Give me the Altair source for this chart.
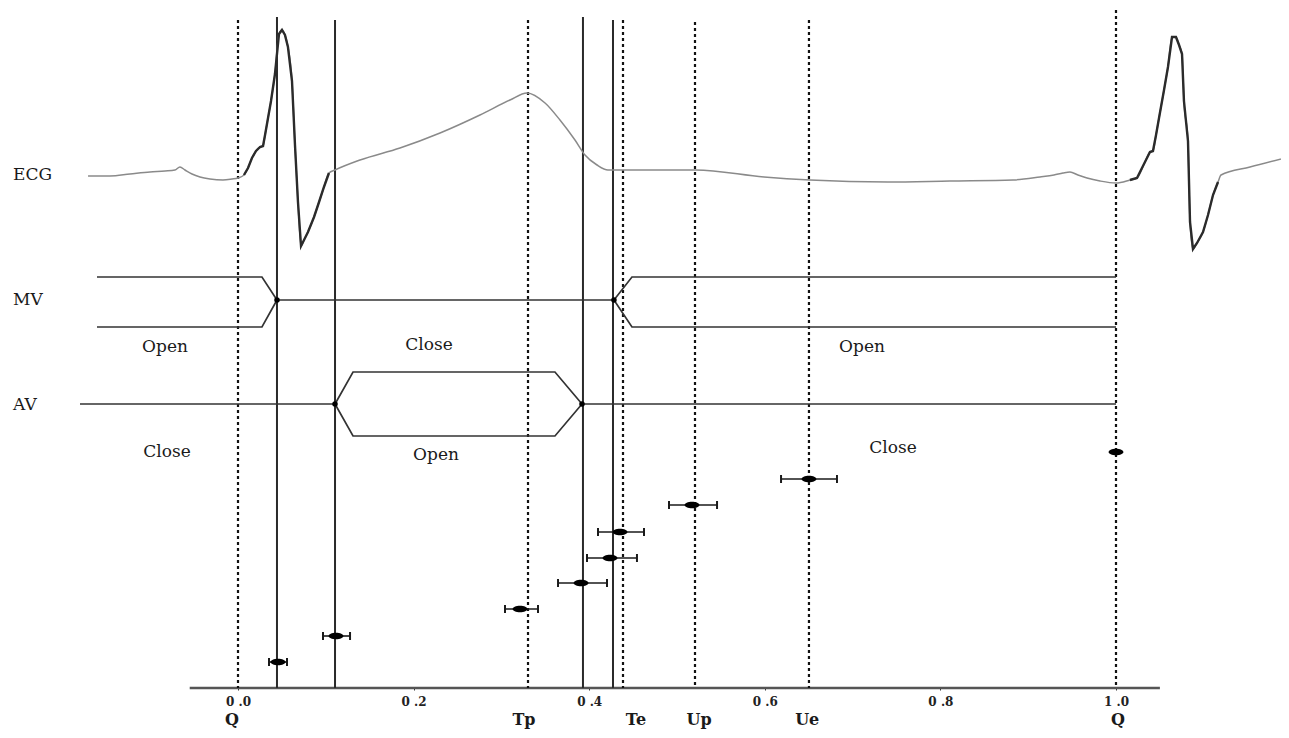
import altair as alt
import pandas as pd

# ---------------- data ----------------
# ECG trace: time as fraction of the RR cycle (Q = 0, next Q = 1) and amplitude (arbitrary vertical units)
ecg_t = [-0.1708, -0.1458, -0.1230, -0.1002, -0.0831, -0.0718, -0.0661, -0.0604, -0.0524, -0.0433,
         -0.0319, -0.0171, -0.0068, 0.0000, 0.0068, 0.0114, 0.0159, 0.0205, 0.0251, 0.0285,
         0.0308, 0.0342, 0.0376, 0.0421, 0.0467, 0.0501, 0.0535, 0.0569, 0.0615, 0.0649,
         0.0683, 0.0718, 0.0752, 0.0797, 0.0866, 0.0923, 0.0979, 0.1036, 0.1105, 0.1390,
         0.1845, 0.2301, 0.2756, 0.3098, 0.3292, 0.3497, 0.3667, 0.3838, 0.3952, 0.4089,
         0.4214, 0.4351, 0.4681, 0.5216, 0.5991, 0.6515, 0.7403, 0.8109, 0.8827, 0.9134,
         0.9294, 0.9396, 0.9476, 0.9567, 0.9670, 0.9818, 1.0000, 1.0159, 1.0239, 1.0330,
         1.0387, 1.0421, 1.0456, 1.0490, 1.0547, 1.0592, 1.0638, 1.0683, 1.0718, 1.0752,
         1.0774, 1.0820, 1.0843, 1.0877, 1.0923, 1.0991, 1.1048, 1.1105, 1.1162, 1.1196,
         1.1526, 1.1970]
ecg_amp = [512, 512, 514, 516, 517, 518, 521, 518, 514, 511,
           509, 508, 509, 510, 513, 520, 530, 537, 541, 542,
           553, 570, 587, 614, 654, 658, 653, 641, 607, 543,
           486, 442, 448, 456, 471, 486, 501, 515, 518, 528,
           540, 555, 573, 588, 595, 585, 568, 548, 533, 523,
           518, 518, 518, 518, 511, 508, 506, 507, 508, 511,
           513, 515, 516, 513, 510, 507, 505, 508, 510, 526,
           536, 537, 553, 570, 598, 621, 651, 651, 643, 634,
           587, 547, 466, 439, 445, 456, 473, 493, 506, 513,
           521, 531]

# event lines (dotted: Q, Tp, Te, Up, Ue, Q ; solid: valve events)
dotted_t = [0.0, 0.3303, 0.4385, 0.5205, 0.6503, 1.0]
dotted_top = [668, 668, 668, 666, 668, 678]
solid_t = [0.0444, 0.1105, 0.3929, 0.4271]
solid_top = [671, 668, 671, 668]

# valve state outlines (MV / AV)
valve_path = (["mv_pre_up"] * 3 + ["mv_pre_lo"] * 3 + ["mv_closed"] * 2 + ["mv_post_up"] * 3 + ["mv_post_lo"] * 3
              + ["av_pre"] * 2 + ["av_open_up"] * 4 + ["av_open_lo"] * 4 + ["av_post"] * 2)
valve_t = [-0.1606, 0.0273, 0.0444,
           -0.1606, 0.0273, 0.0444,
           0.0444, 0.4282,
           0.4282, 0.4487, 1.0,
           0.4282, 0.4487, 1.0,
           -0.1800, 0.1105,
           0.1105, 0.1310, 0.3610, 0.3918,
           0.1105, 0.1310, 0.3610, 0.3918,
           0.3918, 1.0]
valve_y = [411, 411, 388,
           361, 361, 388,
           388, 388,
           388, 411, 411,
           388, 361, 361,
           284, 284,
           284, 316, 316, 284,
           284, 252, 252, 284,
           284, 284]

# valve event points
valve_evt_t = [0.0444, 0.4282, 0.1105, 0.3918]
valve_evt_y = [388, 388, 284, 284]

# timing measurements (mean with spread)
meas_mean = [0.0456, 0.1116, 0.3212, 0.3907, 0.4237, 0.4351, 0.5171, 0.6503, 1.0]
meas_lo = [0.0353, 0.0968, 0.3041, 0.3645, 0.3975, 0.4100, 0.4909, 0.6185, 1.0]
meas_hi = [0.0558, 0.1276, 0.3417, 0.4203, 0.4544, 0.4624, 0.5456, 0.6822, 1.0]
meas_row = [26, 52, 79, 105, 130, 156, 183, 209, 236]

# texts
row_labels = ["ECG", "MV", "AV"]
row_label_t = [-0.2563, -0.2563, -0.2563]
row_label_y = [513, 388, 283]
state_text = ["Open", "Close", "Open", "Close", "Open", "Close"]
state_t = [-0.0831, 0.2175, 0.7107, -0.0809, 0.2255, 0.7460]
state_y = [341, 343, 341, 236, 233, 240]
phase_text = ["Q", "Tp", "Te", "Up", "Ue", "Q"]
phase_t = [-0.0068, 0.3257, 0.4533, 0.5251, 0.6483, 1.0023]
phase_y = [-32, -32, -32, -32, -32, -32]
tick_values = [0.0, 0.2, 0.4, 0.6, 0.8, 1.0]
axis_start = [-0.055]
axis_end = [1.05]
axis_level = [0]

# ---------------- frames ----------------
ecg_df = pd.DataFrame({"t": ecg_t, "amp": ecg_amp, "i": list(range(len(ecg_t)))})
dotted_df = pd.DataFrame({"t": dotted_t, "top": dotted_top, "base": [0] * len(dotted_t)})
solid_df = pd.DataFrame({"t": solid_t, "top": solid_top, "base": [0] * len(solid_t)})
valve_df = pd.DataFrame({"path": valve_path, "t": valve_t, "y": valve_y, "i": list(range(len(valve_t)))})
evt_df = pd.DataFrame({"t": valve_evt_t, "y": valve_evt_y})
meas_df = pd.DataFrame({"mean": meas_mean, "lo": meas_lo, "hi": meas_hi, "row": meas_row})
meas_bar_df = meas_df[meas_df["hi"] > meas_df["lo"]].reset_index(drop=True)
rowlab_df = pd.DataFrame({"text": row_labels, "t": row_label_t, "y": row_label_y})
state_df = pd.DataFrame({"text": state_text, "t": state_t, "y": state_y})
phase_df = pd.DataFrame({"text": phase_text, "t": phase_t, "y": phase_y})
axis_df = pd.DataFrame({"a": axis_start, "b": axis_end, "y": axis_level})

xscale = alt.Scale(domain=[-0.26196, 1.18793], nice=False, zero=False)
yscale = alt.Scale(domain=[0, 680], nice=False, zero=False)
xaxis = alt.Axis(values=tick_values, title=None, grid=False, domain=False, ticks=True, tickSize=2,
                 tickColor="#333", labelFont="DejaVu Serif", labelFontWeight="bold", labelFontSize=12,
                 labelColor="#222", labelPadding=6, labelFlush=False, labelOverlap=False,
                 labelExpr="replace(format(datum.value, '.1f'), '.', ' .')")


def X(field):
    return alt.X(field, type="quantitative", scale=xscale, axis=xaxis)


def Y(field):
    return alt.Y(field, type="quantitative", scale=yscale, axis=None)


SERIF = "DejaVu Serif"

ecg_line = alt.Chart(ecg_df).mark_line(color="#8a8a8a", strokeWidth=1.5, interpolate="monotone").encode(
    x=X("t"), y=Y("amp"), order="i:Q")

ecg_qrs = alt.Chart(ecg_df).transform_filter(
    "(datum.t >= 0.004 && datum.t <= 0.106) || (datum.t >= 1.01 && datum.t <= 1.117)"
).transform_calculate(beat="datum.t < 0.5 ? 1 : 2").mark_line(color="#2b2b2b", strokeWidth=2.4).encode(
    x=X("t"), y=Y("amp"), detail="beat:N", order="i:Q")

dotted = alt.Chart(dotted_df).mark_rule(color="#111", strokeWidth=2.2, strokeDash=[3, 3]).encode(
    x=X("t"), y=Y("top"), y2="base:Q")

solid = alt.Chart(solid_df).mark_rule(color="#2a2a2a", strokeWidth=2).encode(
    x=X("t"), y=Y("top"), y2="base:Q")

valves = alt.Chart(valve_df).mark_line(color="#333333", strokeWidth=1.7).encode(
    x=X("t"), y=Y("y"), detail="path:N", order="i:Q")

evt_pts = alt.Chart(evt_df).mark_point(filled=True, color="#000", size=30, opacity=1).encode(
    x=X("t"), y=Y("y"))

err_bar = alt.Chart(meas_bar_df).mark_rule(color="#1a1a1a", strokeWidth=1.6).encode(
    x=X("lo"), x2="hi:Q", y=Y("row"))

cap_shape = "M0,-1L0,1"
cap_lo = alt.Chart(meas_bar_df).mark_point(shape=cap_shape, filled=False, color="#1a1a1a",
                                           strokeWidth=2, size=64, opacity=1).encode(
    x=X("lo"), y=Y("row"))
cap_hi = alt.Chart(meas_bar_df).mark_point(shape=cap_shape, filled=False, color="#1a1a1a",
                                           strokeWidth=2, size=64, opacity=1).encode(
    x=X("hi"), y=Y("row"))

ellipse = "M-1,0A1,0.45,0,1,0,1,0A1,0.45,0,1,0,-1,0Z"
means = alt.Chart(meas_df).mark_point(shape=ellipse, filled=True, color="#000", size=220, opacity=1).encode(
    x=X("mean"), y=Y("row"))

axis_line = alt.Chart(axis_df).mark_rule(color="#555", strokeWidth=2.5).encode(
    x=X("a"), x2="b:Q", y=Y("y"))

row_text = alt.Chart(rowlab_df).mark_text(font=SERIF, fontSize=17, align="left", baseline="middle",
                                          color="#1a1a1a").encode(x=X("t"), y=Y("y"), text="text:N")

state_txt = alt.Chart(state_df).mark_text(font=SERIF, fontSize=17, align="center", baseline="middle",
                                          color="#1a1a1a").encode(x=X("t"), y=Y("y"), text="text:N")

phase_txt = alt.Chart(phase_df).mark_text(font=SERIF, fontSize=16, fontWeight="bold", align="center",
                                          baseline="middle", color="#1a1a1a").encode(
    x=X("t"), y=Y("y"), text="text:N")

chart = alt.layer(
    axis_line, dotted, solid, valves, ecg_line, ecg_qrs, evt_pts,
    err_bar, cap_lo, cap_hi, means, row_text, state_txt, phase_txt
).properties(
    width=1273, height=680,
    autosize=alt.AutoSizeParams(type="none"),
    padding={"left": 0, "top": 0, "right": 0, "bottom": 42},
    background="white",
).configure_view(stroke=None)

chart.save("out.html", embed_options={"renderer": "svg", "actions": False})
